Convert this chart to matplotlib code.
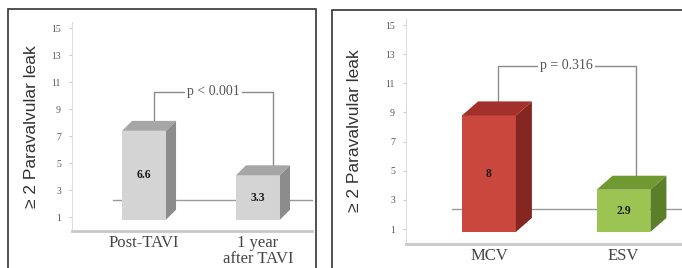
import matplotlib.pyplot as plt
from matplotlib.patches import Polygon, Rectangle

# data
left_cats = ["Post-TAVI", "1 year\nafter TAVI"]
left_vals = [6.6, 3.3]
left_labels = ["6.6", "3.3"]
left_p = "p < 0.001"

right_cats = ["MCV", "ESV"]
right_vals = [8, 2.9]
right_labels = ["8", "2.9"]
right_p = "p = 0.316"

yticks = [1, 3, 5, 7, 9, 11, 13, 15]
ylabel = "\u2265 2 Paravalvular leak"

W, H = 682, 268
fig = plt.figure(figsize=(W / 100, H / 100), dpi=100)


def px_box(x0, x1, ybot, ytop):
    # pixel coords (origin top-left) -> figure fraction rect
    return [x0 / W, (H - ybot) / H, (x1 - x0) / W, (ybot - ytop) / H]


def panel(rect, xlim, cats, vals, labels, colors, width, dx, dy, floor, floor_x0,
          ptext, bracket_y, bracket_x, ylab_pad, cat_size):
    ax = fig.add_axes(rect)
    ax.set_xlim(*xlim)
    ax.set_ylim(0, 15.5)
    base = 0.8
    xs = list(range(len(vals)))
    # back floor line
    ax.plot([floor_x0, xlim[1]], [floor, floor], color="#9a9a9a", lw=1, zorder=1,
            clip_on=False)
    bars = ax.bar(xs, vals, width=width, bottom=base, color=[c[0] for c in colors],
                  edgecolor="none", zorder=3)
    tops = []
    for b, c, lab in zip(bars, colors, labels):
        x0 = b.get_x()
        x1 = x0 + b.get_width()
        y1 = b.get_y() + b.get_height()
        y0 = b.get_y()
        ax.add_patch(Polygon([(x0, y1), (x1, y1), (x1 + dx, y1 + dy), (x0 + dx, y1 + dy)],
                             closed=True, color=c[1], lw=0, zorder=3))
        ax.add_patch(Polygon([(x1, y0), (x1 + dx, y0 + dy), (x1 + dx, y1 + dy), (x1, y1)],
                             closed=True, color=c[2], lw=0, zorder=3))
        ax.text(x0 + b.get_width() / 2, y0 + b.get_height() / 2, lab, ha="center",
                va="center", fontsize=8.5, fontweight="bold", family="Liberation Serif",
                color="#1e1e1e", zorder=4)
        tops.append(y1 + dy)
    # significance bracket
    bx0, bx1 = bracket_x
    ax.plot([bx0, bx0, bx1, bx1], [tops[0], bracket_y, bracket_y, tops[1]],
            color="#8a8a8a", lw=1, zorder=2)
    ax.text((bx0 + bx1) / 2, bracket_y, ptext, ha="center", va="center", fontsize=10,
            family="Liberation Serif", color="#555555", zorder=3,
            bbox=dict(facecolor="white", edgecolor="none", pad=1.5))
    ax.set_yticks(yticks)
    ax.set_yticklabels([str(t) for t in yticks], family="Liberation Serif",
                       fontsize=7, color="#555555")
    ax.tick_params(axis="y", length=2, width=0.8, color="#cccccc", pad=6)
    ax.set_xticks(xs)
    ax.set_xticklabels(cats, family="Liberation Serif", fontsize=cat_size,
                       color="#444444", linespacing=1.05)
    ax.tick_params(axis="x", length=0, pad=3)
    for s in ("top", "right"):
        ax.spines[s].set_visible(False)
    ax.spines["left"].set_color("#dddddd")
    ax.spines["left"].set_linewidth(0.8)
    ax.spines["bottom"].set_color("#c8c8c8")
    ax.spines["bottom"].set_linewidth(2)
    ax.set_ylabel(ylabel, family="Liberation Sans", fontsize=12.5, color="#333333",
                  labelpad=ylab_pad)
    ax.patch.set_alpha(0)
    return ax


gray = ("#d4d4d4", "#a6a6a6", "#8c8c8c")
panel(px_box(72, 312, 230.5, 21.75), (-0.632, 1.474), left_cats, left_vals, left_labels,
      [gray, gray], 0.386, 0.088, 0.74, 2.3, -0.27, left_p, 10.3, (0.088, 1.13), 9, 12)

red = ("#c9473d", "#a3302a", "#862620")
green = ("#9cc452", "#6f9a32", "#5a7f28")
panel(px_box(406, 682, 243.6, 17.8), (-0.617, 1.435), right_cats, right_vals, right_labels,
      [red, green], 0.40, 0.119, 0.96, 2.4, -0.275, right_p, 12.2, (0.067, 1.09), 17, 12)

# panel frames
fig.add_artist(Rectangle((8 / W, -0.05), (316 - 8) / W, (H - 9) / H + 0.05,
                         transform=fig.transFigure, fill=False, ec="#333333", lw=1.2))
fig.add_artist(Rectangle((332 / W, -0.05), (W + 5 - 332) / W, (H - 10) / H + 0.05,
                         transform=fig.transFigure, fill=False, ec="#333333", lw=1.2))

fig.savefig("out.png", dpi=100)
